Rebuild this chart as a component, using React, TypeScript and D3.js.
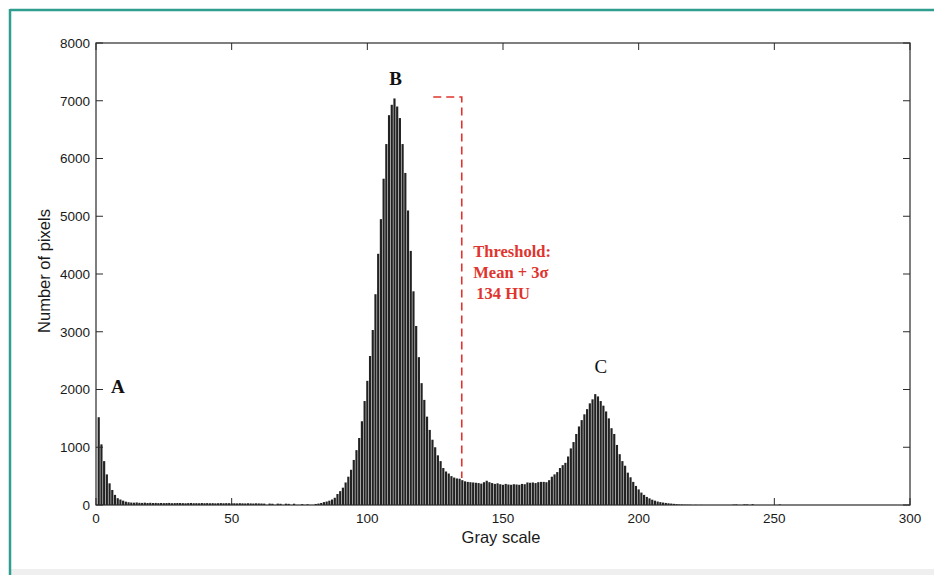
import React from "react";
import * as d3 from "d3";

const W = 934;
const H = 575;

// Axis ticks
const xTicks = [0, 50, 100, 150, 200, 250, 300];
const yTicks = [0, 1000, 2000, 3000, 4000, 5000, 6000, 7000, 8000];

// Histogram counts, first bin = gray level 1
const firstBin = 1;
// gray 1-30 (peak A)
const binsA = [1520, 1050, 760, 530, 375, 260, 175, 118, 95, 75, 58, 48, 42, 40, 44, 38, 36, 40, 35, 38, 34, 36, 33, 35, 32, 34, 36, 31, 33, 35];
// gray 31-84 (flat, low)
const binsLow = [34, 32, 30, 33, 35, 31, 32, 30, 34, 31, 33, 30, 32, 29, 31, 33, 30, 32, 31, 30,
  30, 28, 31, 29, 27, 30, 28, 26, 29, 27,
  26, 24, 0, 25, 22, 0, 24, 21, 0, 23, 20, 0, 22, 0, 0, 15, 0, 12, 0, 0, 18, 25, 35, 50];
// gray 85-134 (peak B)
const binsB = [60, 75, 95, 125, 190, 240, 300, 390, 490, 610, 780, 950, 1160, 1450, 1800, 2150, 2580, 3030, 3650, 4350,
  4950, 5650, 6250, 6750, 6930, 7040, 6900, 6700, 6250, 5750, 5100, 4400, 3700, 3100, 2560, 2110, 1820, 1530, 1300, 1130,
  1000, 860, 760, 640, 580, 545, 500, 475, 460, 455];
// gray 135-167 (plateau)
const binsPlateau = [430, 410, 400, 395, 390, 385, 380, 370, 395, 420, 395, 380, 365, 375, 360, 350, 365, 355, 350, 360,
  355, 350, 365, 360, 390, 385, 390, 380, 395, 400, 400, 395, 430];
// gray 168-215 (peak C)
const binsC = [490, 530, 570, 640, 690, 730, 840, 980, 1090, 1230, 1360, 1470, 1570, 1660, 1760, 1830, 1920, 1880, 1800, 1720,
  1620, 1500, 1330, 1230, 1040, 880, 760, 680, 560, 480, 400, 330, 270, 215, 175, 140, 115, 92, 75, 60,
  50, 42, 36, 30, 25, 20, 15, 10];
// gray 216-255 (tail)
const binsTail = [8, 6, 5, 4, 0, 3, 0, 2, 0, 0, 0, 0, 0, 0, 0, 0, 0, 0, 0, 8,
  10, 0, 0, 12, 10, 0, 14, 0, 0, 0, 0, 0, 0, 0, 0, 0, 10, 0, 0, 0];

const counts = [...binsA, ...binsLow, ...binsB, ...binsPlateau, ...binsC, ...binsTail];

// Peak labels
const peakLabels = [
  { text: "A", gray: 8.1, count: 1939, bold: true },
  { text: "B", gray: 110.4, count: 7273, bold: true },
  { text: "C", gray: 186.1, count: 2286, bold: false },
];

// Threshold annotation
const thresholdGray = 134.8;
const thresholdStartGray = 124.3;
const thresholdTopCount = 7065;
const thresholdBottomCount = 467;
const thresholdLines = ["Threshold:", "Mean + 3\u03c3", "134 HU"];
const thresholdIndent = [0, 0, 3];

const xLabel = "Gray scale";
const yLabel = "Number of pixels";

export default function App() {
  const x = d3.scaleLinear().domain([0, 300]).range([96, 910]);
  const y = d3.scaleLinear().domain([0, 8000]).range([505, 43]);
  const binW = x(1) - x(0);
  const barW = binW * 0.8;
  const tickLen = 7;
  const axisColor = "#2a2a2a";
  const red = "#e0342e";
  const tickFont = "'Liberation Sans', Arial, sans-serif";
  const serif = "'Liberation Serif', 'Times New Roman', serif";

  const bars = counts.map((c, i) => ({ gray: firstBin + i, count: c })).filter((d) => d.count > 0);

  return (
    <svg width={W} height={H} style={{ position: "absolute", left: 0, top: 0, display: "block", background: "#fff" }}>
      {/* frame */}
      <rect x={11} y={569} width={W - 11} height={6} fill="#efefef" />
      <line x1={10} y1={10} x2={W} y2={10} stroke="#2f9e8e" strokeWidth={2.5} />
      <line x1={10} y1={9} x2={10} y2={H} stroke="#2f9e8e" strokeWidth={2.5} />

      {/* bars */}
      <g>
        {bars.map((d) => (
          <rect
            key={d.gray}
            x={x(d.gray) - barW / 2}
            y={y(d.count)}
            width={barW}
            height={y(0) - y(d.count)}
            fill="#222"
          />
        ))}
      </g>

      {/* axes box */}
      <rect x={x(0)} y={y(8000)} width={x(300) - x(0)} height={y(0) - y(8000)} fill="none" stroke={axisColor} strokeWidth={1.2} />
      {xTicks.map((t) => (
        <g key={"xt" + t}>
          <line x1={x(t)} x2={x(t)} y1={y(0)} y2={y(0) - tickLen} stroke={axisColor} strokeWidth={1} />
          <line x1={x(t)} x2={x(t)} y1={y(8000)} y2={y(8000) + tickLen} stroke={axisColor} strokeWidth={1} />
          <text x={x(t)} y={523} textAnchor="middle" fontFamily={tickFont} fontSize={13.5} fill="#1a1a1a">
            {t}
          </text>
        </g>
      ))}
      {yTicks.map((t) => (
        <g key={"yt" + t}>
          <line x1={x(0)} x2={x(0) + tickLen} y1={y(t)} y2={y(t)} stroke={axisColor} strokeWidth={1} />
          <line x1={x(300)} x2={x(300) - tickLen} y1={y(t)} y2={y(t)} stroke={axisColor} strokeWidth={1} />
          <text x={90} y={y(t)} dy="0.36em" textAnchor="end" fontFamily={tickFont} fontSize={13.5} fill="#1a1a1a">
            {t}
          </text>
        </g>
      ))}

      {/* axis labels */}
      <text x={501} y={543} textAnchor="middle" fontFamily={tickFont} fontSize={16.5} fill="#1a1a1a">
        {xLabel}
      </text>
      <text
        transform={`translate(50,271) rotate(-90)`}
        textAnchor="middle"
        fontFamily={tickFont}
        fontSize={16.5}
        fill="#1a1a1a"
      >
        {yLabel}
      </text>

      {/* peak labels */}
      {peakLabels.map((p) => (
        <text
          key={p.text}
          x={x(p.gray)}
          y={y(p.count)}
          textAnchor="middle"
          fontFamily={serif}
          fontWeight={p.bold ? "bold" : "normal"}
          fontSize={19}
          fill="#111"
        >
          {p.text}
        </text>
      ))}

      {/* threshold annotation */}
      <path
        d={`M${x(thresholdStartGray)},${y(thresholdTopCount)} H${x(thresholdGray)} V${y(thresholdBottomCount)}`}
        fill="none"
        stroke={red}
        strokeWidth={1.6}
        strokeDasharray="8,5"
      />
      {thresholdLines.map((s, i) => (
        <text
          key={s}
          x={x(thresholdGray) + 11.5 + thresholdIndent[i]}
          y={257 + i * 20.8}
          fontFamily={serif}
          fontWeight="bold"
          fontSize={16.5}
          fill={red}
        >
          {s}
        </text>
      ))}
    </svg>
  );
}
